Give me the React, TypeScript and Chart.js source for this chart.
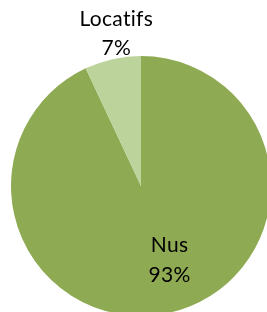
import React, { useEffect, useRef } from "react";
import { Chart, registerables } from "chart.js";

Chart.register(...registerables);

const categories = ["Nus", "Locatifs"];
const values = [93, 7];
const percentLabels = ["93%", "7%"];
const colors = ["#8EAA52", "#BDD39C"];

const FONT = "21px Lato, 'DejaVu Sans', sans-serif";

const labelPlugin = {
  id: "pieLabels",
  afterDatasetsDraw(chart: any) {
    const ctx = chart.ctx;
    const meta = chart.getDatasetMeta(0);
    const arc0 = meta.data[0];
    if (!arc0) return;
    const cx = arc0.x;
    const cy = arc0.y;
    const r = arc0.outerRadius;
    // label anchors relative to pie centre, as fractions of radius
    const anchors = [
      { dx: 0.22, dy: 0.505, gap: 30 },   // Nus (inside)
      { dx: -0.19, dy: -1.23, gap: 28.6 }, // Locatifs (outside top)
    ];
    ctx.save();
    ctx.font = FONT;
    try {
      (ctx as any).letterSpacing = "0.3px";
    } catch (e) {}
    ctx.fillStyle = "#000000";
    ctx.textAlign = "center";
    ctx.textBaseline = "alphabetic";
    categories.forEach((c, i) => {
      const a = anchors[i];
      const x = cx + a.dx * r;
      const y = cy + a.dy * r;
      ctx.fillText(c, x, y);
      ctx.fillText(percentLabels[i], x, y + a.gap);
    });
    ctx.restore();
  },
};

export default function App() {
  const ref = useRef<HTMLCanvasElement | null>(null);
  useEffect(() => {
    if (!ref.current) return;
    const chart = new Chart(ref.current, {
      type: "pie",
      data: {
        labels: categories,
        datasets: [
          {
            data: values,
            backgroundColor: colors,
            borderWidth: 0,
          },
        ],
      },
      options: {
        animation: false,
        responsive: false,
        maintainAspectRatio: false,
        devicePixelRatio: 1,
        layout: { padding: { left: 11, top: 56, right: 19, bottom: 14 } },
        plugins: {
          legend: { display: false },
          tooltip: { enabled: false },
        },
      },
      plugins: [labelPlugin],
    });
    return () => chart.destroy();
  }, []);
  return (
    <div
      style={{
        position: "fixed",
        left: 0,
        top: 0,
        width: 267,
        height: 312,
        overflow: "hidden",
        background: "#ffffff",
      }}
    >
      <canvas ref={ref} width={290} height={330} style={{ display: "block" }} />
    </div>
  );
}
